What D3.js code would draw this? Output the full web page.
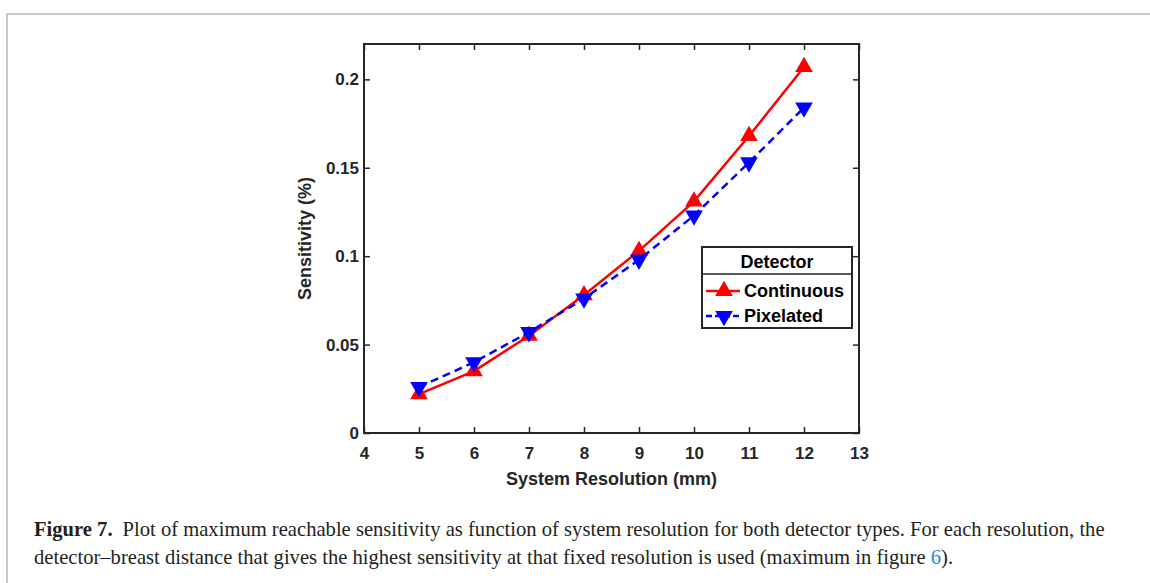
<!DOCTYPE html>
<html>
<head>
<meta charset="utf-8">
<script src="https://cdn.jsdelivr.net/npm/d3@7"></script>
<style>
  body { margin: 0; background: #fff; }
  .axis text { font: bold 17px "Liberation Sans", Arial, sans-serif; fill: #262626; }
  .axis path, .axis line { stroke: #262626; stroke-width: 1.5; }
</style>
</head>
<body>
<div id="chart"></div>
<script>
// values
var resolution = [5, 6, 7, 8, 9, 10, 11, 12];
var continuous = [0.022, 0.035, 0.055, 0.078, 0.103, 0.131, 0.168, 0.207];
var pixelated  = [0.026, 0.040, 0.057, 0.076, 0.098, 0.123, 0.153, 0.184];
var xTicks = [4, 5, 6, 7, 8, 9, 10, 11, 12, 13];
var yTicks = [0, 0.05, 0.1, 0.15, 0.2];
var seriesNames = ["Continuous", "Pixelated"];
var legendTitle = "Detector";
var xTitle = "System Resolution (mm)";
var yTitle = "Sensitivity (%)";
var captionBold = "Figure 7.";
var captionLine1 = "Plot of maximum reachable sensitivity as function of system resolution for both detector types. For each resolution, the";
var captionLine2 = "detector\u2013breast distance that gives the highest sensitivity at that fixed resolution is used (maximum in figure ";
var captionRef = "6";

var width = 1150,
    height = 583,
    margin = {top: 44, left: 364},
    w = 495,
    h = 389;
var titleFont = "bold 18px 'Liberation Sans', Arial, sans-serif";

var svg = d3.select("#chart").append("svg")
  .attr("width", width)
  .attr("height", height);

// grey page frame (top and left)
svg.append("path")
  .attr("d", "M7," + height + "V14H" + width)
  .style("fill", "none").style("stroke", "#c8c8c8").style("stroke-width", 2);

var g = svg.append("g")
  .attr("transform", "translate(" + margin.left + "," + margin.top + ")");

var x = d3.scaleLinear().domain([4, 13]).range([0, w]);
var y = d3.scaleLinear().domain([0, 0.22]).range([h, 0]);
var fmt = function(d){ return String(d); };

g.append("g").attr("class", "axis")
  .attr("transform", "translate(0," + h + ")")
  .call(d3.axisBottom(x).tickValues(xTicks).tickFormat(fmt)
    .tickSizeInner(-6).tickSizeOuter(0).tickPadding(14));
g.append("g").attr("class", "axis")
  .call(d3.axisLeft(y).tickValues(yTicks).tickFormat(fmt)
    .tickSizeInner(-6).tickSizeOuter(0).tickPadding(5));
g.append("g").attr("class", "axis")
  .call(d3.axisTop(x).tickValues(xTicks).tickFormat("")
    .tickSizeInner(-6).tickSizeOuter(0));
g.append("g").attr("class", "axis")
  .attr("transform", "translate(" + w + ",0)")
  .call(d3.axisRight(y).tickValues(yTicks).tickFormat("")
    .tickSizeInner(-6).tickSizeOuter(0));
g.selectAll(".axis .domain").remove();
g.append("rect")
  .attr("width", w).attr("height", h)
  .style("fill", "none").style("stroke", "#262626").style("stroke-width", 2);

// axis titles
g.append("text")
  .attr("x", w / 2).attr("y", h + 52)
  .attr("text-anchor", "middle")
  .style("font", titleFont)
  .style("fill", "#262626")
  .text(xTitle);
g.append("text")
  .attr("transform", "translate(-53," + (h / 2) + ") rotate(-90)")
  .attr("text-anchor", "middle")
  .style("font", titleFont)
  .style("fill", "#262626")
  .text(yTitle);

var series = [
  {name: seriesNames[0], values: continuous, color: "#ff0000", dash: null, rot: 0},
  {name: seriesNames[1], values: pixelated, color: "#0000ff", dash: "8,5", rot: 180}
];

var line = d3.line()
  .x(function(d, i){ return x(resolution[i]); })
  .y(function(d){ return y(d); });
var tri = d3.symbol().type(d3.symbolTriangle).size(135);

series.forEach(function(s){
  g.append("path").datum(s.values)
    .attr("d", line)
    .style("fill", "none").style("stroke", s.color)
    .style("stroke-width", 2.5)
    .style("stroke-dasharray", s.dash);
  g.selectAll(null).data(s.values).enter()
    .append("path")
    .attr("d", tri)
    .attr("transform", function(d, i){
      return "translate(" + x(resolution[i]) + "," + y(d) + ") rotate(" + s.rot + ")"; })
    .style("fill", s.color);
});

// legend
var lg = g.append("g").attr("transform", "translate(" + (w - 157) + ",203)");
lg.append("rect").attr("width", 150).attr("height", 81)
  .style("fill", "#fff").style("stroke", "#262626").style("stroke-width", 2);
lg.append("line").attr("x1", 0).attr("x2", 150).attr("y1", 27).attr("y2", 27)
  .style("stroke", "#262626").style("stroke-width", 1.5);
lg.append("text").attr("x", 75).attr("y", 21)
  .attr("text-anchor", "middle")
  .style("font", titleFont)
  .style("fill", "#000")
  .text(legendTitle);
series.forEach(function(s, i){
  var ly = 44 + i * 25;
  lg.append("line").attr("x1", 4).attr("x2", 38).attr("y1", ly).attr("y2", ly)
    .style("stroke", s.color).style("stroke-width", 2.5)
    .style("stroke-dasharray", s.dash ? "6,3" : null);
  lg.append("path").attr("d", tri)
    .attr("transform", "translate(22," + ly + ") rotate(" + s.rot + ")")
    .style("fill", s.color);
  lg.append("text").attr("x", 42).attr("y", ly + 6)
    .style("font", titleFont)
    .style("fill", "#000")
    .text(s.name);
});

// caption
var cap = svg.append("g")
  .style("font", "20.6px 'Liberation Serif', 'Times New Roman', serif")
  .style("fill", "#231f20");
var t1 = cap.append("text").attr("x", 34).attr("y", 536);
t1.append("tspan").style("font-weight", "bold").text(captionBold);
t1.append("tspan").attr("dx", 10).text(captionLine1);
var t2 = cap.append("text").attr("x", 34).attr("y", 564);
t2.append("tspan").text(captionLine2);
t2.append("tspan").style("fill", "#1a8fd6").text(captionRef);
t2.append("tspan").text(").");
</script>
</body>
</html>
